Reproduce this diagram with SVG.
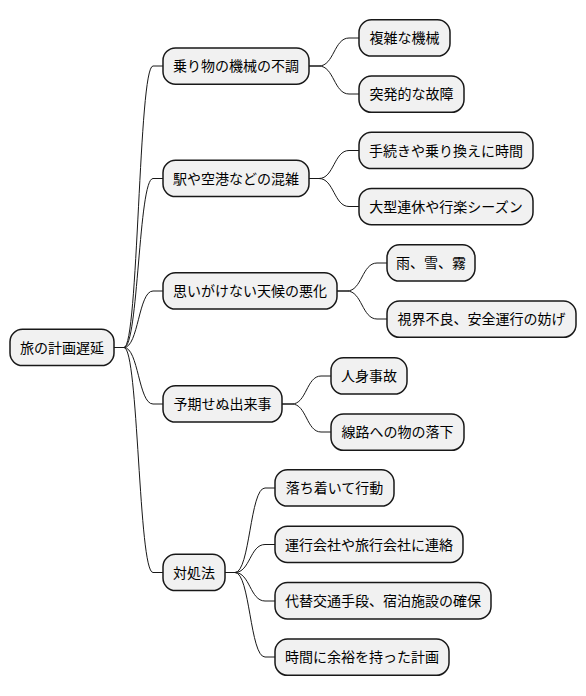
<svg xmlns="http://www.w3.org/2000/svg" width="586" height="696" viewBox="0 0 586 696">
<style>
.n rect{fill:#F1F1F1;stroke:#181818;stroke-width:1.5}
.n text{font-family:"Noto Sans CJK JP","Noto Sans",sans-serif;font-size:14px;fill:#000;text-anchor:middle}
#connectors path{fill:none;stroke:#181818;stroke-width:1}
</style>
<rect width="586" height="696" fill="#FFFFFF"/>
<g id="connectors">
<path d="M114,347.5 L124,347.5 C138.5,347.5 138.5,66 153,66 L163,66"/>
<path d="M114,347.5 L124,347.5 C138.5,347.5 138.5,178.5 153,178.5 L163,178.5"/>
<path d="M114,347.5 L124,347.5 C138.5,347.5 138.5,291 153,291 L163,291"/>
<path d="M114,347.5 L124,347.5 C138.5,347.5 138.5,404 153,404 L163,404"/>
<path d="M114,347.5 L124,347.5 C138.5,347.5 138.5,572.5 153,572.5 L163,572.5"/>
<path d="M309,66 L319,66 C334,66 334,38 349,38 L359,38"/>
<path d="M309,66 L319,66 C334,66 334,94 349,94 L359,94"/>
<path d="M309,178.5 L319,178.5 C334,178.5 334,150.5 349,150.5 L359,150.5"/>
<path d="M309,178.5 L319,178.5 C334,178.5 334,206.5 349,206.5 L359,206.5"/>
<path d="M337,291 L347,291 C362,291 362,263 377,263 L387,263"/>
<path d="M337,291 L347,291 C362,291 362,319 377,319 L387,319"/>
<path d="M282,404 L292,404 C306.5,404 306.5,376 321,376 L331,376"/>
<path d="M282,404 L292,404 C306.5,404 306.5,432 321,432 L331,432"/>
<path d="M225,572.5 L235,572.5 C250,572.5 250,488 265,488 L275,488"/>
<path d="M225,572.5 L235,572.5 C250,572.5 250,544.5 265,544.5 L275,544.5"/>
<path d="M225,572.5 L235,572.5 C250,572.5 250,601 265,601 L275,601"/>
<path d="M225,572.5 L235,572.5 C250,572.5 250,657 265,657 L275,657"/>
</g>
<g id="root" class="n"><rect x="10" y="329.3" width="104" height="36.3" rx="12.5"/><text x="62" y="352.5">旅の計画遅延</text></g>
<g id="n1" class="n"><rect x="163" y="47.9" width="146" height="36.3" rx="12.5"/><text x="236" y="71">乗り物の機械の不調</text></g>
<g id="n1a" class="n"><rect x="359" y="19.8" width="91" height="36.3" rx="12.5"/><text x="404.5" y="43">複雑な機械</text></g>
<g id="n1b" class="n"><rect x="359" y="76" width="105" height="36.3" rx="12.5"/><text x="411.5" y="99">突発的な故障</text></g>
<g id="n2" class="n"><rect x="163" y="160.3" width="146" height="36.3" rx="12.5"/><text x="236" y="183.5">駅や空港などの混雑</text></g>
<g id="n2a" class="n"><rect x="359" y="132.3" width="174" height="36.3" rx="12.5"/><text x="446" y="155.5">手続きや乗り換えに時間</text></g>
<g id="n2b" class="n"><rect x="359" y="188.4" width="174" height="36.3" rx="12.5"/><text x="446" y="211.5">大型連休や行楽シーズン</text></g>
<g id="n3" class="n"><rect x="163" y="272.8" width="174" height="36.3" rx="12.5"/><text x="250" y="296">思いがけない天候の悪化</text></g>
<g id="n3a" class="n"><rect x="387" y="244.8" width="88" height="36.3" rx="12.5"/><text x="431" y="268">雨、雪、霧</text></g>
<g id="n3b" class="n"><rect x="387" y="301" width="189" height="36.3" rx="12.5"/><text x="481.5" y="324">視界不良、安全運行の妨げ</text></g>
<g id="n4" class="n"><rect x="163" y="385.8" width="119" height="36.3" rx="12.5"/><text x="222.5" y="409">予期せぬ出来事</text></g>
<g id="n4a" class="n"><rect x="331" y="357.8" width="76" height="36.3" rx="12.5"/><text x="369" y="381">人身事故</text></g>
<g id="n4b" class="n"><rect x="331" y="414" width="133" height="36.3" rx="12.5"/><text x="397.5" y="437">線路への物の落下</text></g>
<g id="n5" class="n"><rect x="163" y="554.3" width="62" height="36.3" rx="12.5"/><text x="194" y="577.5">対処法</text></g>
<g id="n5a" class="n"><rect x="275" y="469.8" width="119" height="36.3" rx="12.5"/><text x="334.5" y="493">落ち着いて行動</text></g>
<g id="n5b" class="n"><rect x="275" y="526.2" width="188" height="36.3" rx="12.5"/><text x="369" y="549.5">運行会社や旅行会社に連絡</text></g>
<g id="n5c" class="n"><rect x="275" y="582.6" width="216" height="36.3" rx="12.5"/><text x="383" y="606">代替交通手段、宿泊施設の確保</text></g>
<g id="n5d" class="n"><rect x="275" y="639" width="174" height="36.3" rx="12.5"/><text x="362" y="662">時間に余裕を持った計画</text></g>
</svg>
